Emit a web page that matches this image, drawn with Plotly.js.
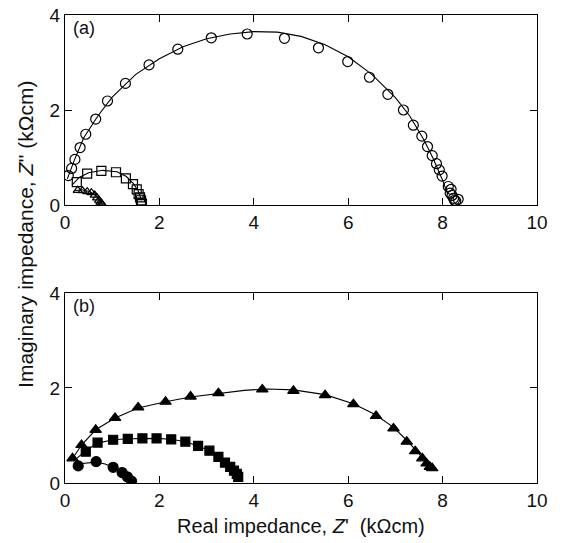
<!DOCTYPE html>
<html>
<head>
<meta charset="utf-8">
<script src="https://cdn.plot.ly/plotly-3.0.1.min.js"></script>
<style>html,body{margin:0;padding:0;background:#fff;}</style>
</head>
<body>
<div id="chart" style="width:563px;height:543px;"></div>
<script>
// Panel (a): open symbols
const aCircX = [0.07,0.14,0.21,0.32,0.44,0.65,0.90,1.28,1.78,2.39,3.10,3.86,4.65,5.37,5.99,6.45,6.84,7.17,7.38,7.56,7.68,7.78,7.87,7.93,7.99,8.12,8.16,8.18,8.20,8.23,8.25,8.28,8.33];
const aCircY = [0.62,0.77,0.96,1.21,1.49,1.81,2.19,2.56,2.95,3.28,3.52,3.60,3.51,3.31,3.02,2.69,2.33,2.00,1.68,1.45,1.23,1.04,0.87,0.74,0.61,0.39,0.25,0.33,0.20,0.14,0.10,0.08,0.12];
const aCircFitX = [0.05,0.2,0.4,0.7,1.0,1.5,2.0,2.5,3.0,3.5,4.0,4.5,5.0,5.5,6.0,6.5,7.0,7.3,7.6,7.8,8.0,8.1];
const aCircFitY = [0.55,0.95,1.42,1.88,2.27,2.75,3.08,3.33,3.50,3.60,3.65,3.64,3.55,3.38,3.12,2.75,2.26,1.88,1.38,0.98,0.52,0.25];

const aSqX = [0.25,0.47,0.77,1.08,1.29,1.44,1.52,1.56,1.59,1.61,1.62,1.63];
const aSqY = [0.48,0.66,0.72,0.69,0.56,0.44,0.33,0.23,0.16,0.10,0.05,0.02];
const aSqFitX = [0.15,0.3,0.5,0.8,1.1,1.3,1.45,1.55,1.62];
const aSqFitY = [0.42,0.58,0.68,0.73,0.70,0.60,0.45,0.30,0.10];

const aTriX = [0.27,0.37,0.47,0.56,0.63,0.68,0.72,0.75,0.77,0.79];
const aTriY = [0.31,0.30,0.28,0.26,0.21,0.15,0.10,0.06,0.03,0.01];
const aTriFitX = [0.2,0.35,0.5,0.62,0.7,0.76,0.8];
const aTriFitY = [0.30,0.32,0.29,0.23,0.15,0.07,0.0];

// Panel (b): filled symbols
const bTriX = [0.16,0.35,0.65,1.06,1.55,2.13,2.66,3.25,4.18,4.84,5.51,6.11,6.59,6.96,7.24,7.42,7.57,7.66,7.73,7.78];
const bTriY = [0.52,0.80,1.12,1.37,1.59,1.71,1.82,1.89,1.97,1.94,1.85,1.66,1.41,1.15,0.87,0.67,0.52,0.41,0.34,0.31];
const bTriFitX = [0.15,0.35,0.65,1.06,1.55,2.13,2.66,3.25,3.8,4.3,4.84,5.51,6.11,6.59,6.96,7.24,7.42,7.57,7.7,7.8];
const bTriFitY = [0.50,0.80,1.12,1.37,1.58,1.71,1.81,1.89,1.95,1.98,1.96,1.86,1.67,1.43,1.17,0.90,0.70,0.53,0.38,0.28];

const bSqX = [0.44,0.69,1.02,1.33,1.64,1.94,2.25,2.55,2.82,3.06,3.25,3.39,3.50,3.58,3.64,3.67];
const bSqY = [0.66,0.85,0.91,0.93,0.94,0.94,0.92,0.87,0.78,0.68,0.55,0.43,0.34,0.26,0.19,0.13];
const bSqFitX = [0.25,0.44,0.69,1.02,1.33,1.64,1.94,2.25,2.55,2.82,3.06,3.25,3.39,3.50,3.6,3.67];
const bSqFitY = [0.52,0.68,0.84,0.91,0.93,0.94,0.94,0.92,0.87,0.78,0.68,0.55,0.43,0.34,0.22,0.12];

const bCircX = [0.28,0.66,1.02,1.21,1.32,1.41];
const bCircY = [0.36,0.45,0.33,0.22,0.13,0.04];
const bCircFitX = [0.25,0.45,0.66,0.85,1.02,1.21,1.32,1.41];
const bCircFitY = [0.40,0.42,0.44,0.40,0.33,0.22,0.13,0.04];

const xTicks = [0,2,4,6,8,10];
const yTicks = [0,2,4];

const line = {color:'#000', width:1.1};
function fit(x,y,xa,ya){return {x:x,y:y,xaxis:xa,yaxis:ya,mode:'lines',line:line,hoverinfo:'skip',showlegend:false};}
function pts(x,y,xa,ya,sym,size){
  return {x:x,y:y,xaxis:xa,yaxis:ya,mode:'markers',showlegend:false,
    marker:{symbol:sym,size:size,color:'#000',line:{color:'#000',width:1.2}}};
}

const data = [
  fit(aCircFitX,aCircFitY,'x','y'),
  fit(aSqFitX,aSqFitY,'x','y'),
  fit(aTriFitX,aTriFitY,'x','y'),
  pts(aCircX,aCircY,'x','y','circle-open',10),
  pts(aSqX,aSqY,'x','y','square-open',9),
  pts(aTriX,aTriY,'x','y','triangle-up-open',8),
  fit(bTriFitX,bTriFitY,'x2','y2'),
  fit(bSqFitX,bSqFitY,'x2','y2'),
  fit(bCircFitX,bCircFitY,'x2','y2'),
  pts(bTriX,bTriY,'x2','y2','triangle-up',10),
  pts(bSqX,bSqY,'x2','y2','square',9),
  pts(bCircX,bCircY,'x2','y2','circle',10)
];

const FF = 'Liberation Sans, Arial, sans-serif';
const tickFont = {family:FF, size:19, color:'#111'};
function xax(anchor){
  return {anchor:anchor, range:[0,10], tickvals:xTicks, ticktext:xTicks.map(String),
    ticks:'inside', ticklen:7, tickcolor:'#000', tickwidth:1, showline:true, linecolor:'#000', linewidth:1,
    mirror:'ticks', showgrid:false, zeroline:false, tickfont:tickFont, fixedrange:true};
}
function yax(anchor,domain){
  return {anchor:anchor, domain:domain, range:[0,4], tickvals:yTicks, ticktext:yTicks.map(String),
    ticks:'inside', ticklen:7, tickcolor:'#000', tickwidth:1, showline:true, linecolor:'#000', linewidth:1,
    mirror:'ticks', showgrid:false, zeroline:false, tickfont:tickFont, fixedrange:true};
}

const layout = {
  width:563, height:543,
  margin:{l:65, r:26, t:15, b:60},
  paper_bgcolor:'#fff', plot_bgcolor:'#fff',
  showlegend:false,
  xaxis: xax('y'),
  yaxis: yax('x',[0.594,1]),
  xaxis2: xax('y2'),
  yaxis2: yax('x2',[0,0.406]),
  annotations:[
    {text:'(a)', xref:'x', yref:'y', x:0.12, y:3.72, xanchor:'left', yanchor:'middle', showarrow:false,
     font:{family:FF, size:18, color:'#111'}},
    {text:'(b)', xref:'x2', yref:'y2', x:0.12, y:3.72, xanchor:'left', yanchor:'middle', showarrow:false,
     font:{family:FF, size:18, color:'#111'}},
    {text:'Imaginary impedance, <i>Z</i>\'\' (kΩcm)', xref:'paper', yref:'paper', x:-0.085, y:0.532,
     xanchor:'center', yanchor:'middle', textangle:-90, showarrow:false,
     font:{family:FF, size:21, color:'#111'}},
    {text:'Real impedance, <i>Z</i>\'  (kΩcm)', xref:'paper', yref:'paper', x:0.5, y:-0.092,
     xanchor:'center', yanchor:'middle', showarrow:false,
     font:{family:FF, size:20, color:'#111'}}
  ]
};

Plotly.newPlot('chart', data, layout, {displayModeBar:false, staticPlot:true});
</script>
</body>
</html>
